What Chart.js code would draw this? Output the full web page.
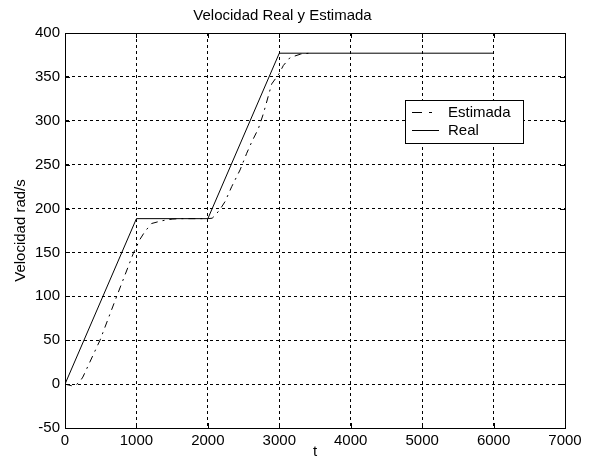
<!DOCTYPE html>
<html>
<head>
<meta charset="utf-8">
<script src="https://cdn.jsdelivr.net/npm/chart.js@4"></script>
<style>
  html, body { margin: 0; padding: 0; background: #fff; }
  #wrap { width: 592px; height: 467px; }
</style>
</head>
<body>
<div id="wrap"><canvas id="chart" width="592" height="467"></canvas></div>
<script>
// values
const realT = [0, 1000, 2000, 3000, 6000];
const realV = [0, 188.5, 188.5, 377, 377];

const estT = [0, 50, 100, 150, 200, 250, 490, 724, 957, 1050, 1120, 1214, 1350, 1500, 1600,
              2000, 2060, 2100, 2170, 2241, 2334, 2451, 2544, 2615, 2707, 2777, 2894, 3000,
              3057, 3151, 3300, 3430];
const estV = [0, -1, -2, -1, 2, 8, 50, 100, 149, 165, 174, 183, 186, 188, 188.5,
              188.5, 189, 192, 199, 208, 225, 244, 263, 276, 291, 308, 342, 354,
              363, 372, 376, 377];

const xTicks = [0, 1000, 2000, 3000, 4000, 5000, 6000, 7000];
const yTicks = [-50, 0, 50, 100, 150, 200, 250, 300, 350, 400];

const font = "'Liberation Sans', Arial, sans-serif";

const toPoints = (ts, vs) => ts.map((t, i) => ({ x: t, y: vs[i] }));

// frame + inward ticks like the original plot
const framePlugin = {
    id: 'frame',
    afterDatasetsDraw(chart) {
        const { ctx, chartArea: a, scales } = chart;
        ctx.save();
        ctx.strokeStyle = '#000';
        ctx.lineWidth = 1;
        ctx.setLineDash([]);
        ctx.strokeRect(a.left + 0.5, a.top + 0.5, a.right - a.left, a.bottom - a.top);
        ctx.beginPath();
        xTicks.forEach(v => {
            const x = Math.round(scales.x.getPixelForValue(v)) + 0.5;
            ctx.moveTo(x, a.bottom); ctx.lineTo(x, a.bottom - 5);
            ctx.moveTo(x, a.top); ctx.lineTo(x, a.top + 5);
        });
        yTicks.forEach(v => {
            const y = Math.round(scales.y.getPixelForValue(v)) + 0.5;
            ctx.moveTo(a.left, y); ctx.lineTo(a.left + 5, y);
            ctx.moveTo(a.right, y); ctx.lineTo(a.right - 5, y);
        });
        ctx.stroke();
        ctx.restore();
    }
};

// boxed legend inside the plot area
const boxLegend = {
    id: 'boxLegend',
    afterDraw(chart) {
        const { ctx, chartArea: a } = chart;
        const bx = a.right - 160, by = a.top + 67, bw = 118, bh = 43;
        ctx.save();
        ctx.fillStyle = '#fff';
        ctx.fillRect(bx, by, bw, bh);
        ctx.strokeStyle = '#000';
        ctx.lineWidth = 1;
        ctx.strokeRect(bx + 0.5, by + 0.5, bw, bh);
        ctx.font = '15px ' + font;
        ctx.textBaseline = 'middle';
        ctx.fillStyle = '#000';
        chart.data.datasets.forEach((ds, i) => {
            const y = by + 12.5 + i * 18;
            ctx.beginPath();
            ctx.setLineDash(ds.legendDash || []);
            ctx.strokeStyle = ds.borderColor;
            ctx.lineWidth = ds.borderWidth;
            ctx.moveTo(bx + 7, y); ctx.lineTo(bx + 34, y);
            ctx.stroke();
            ctx.setLineDash([]);
            ctx.fillText(ds.label, bx + 43, y);
        });
        ctx.restore();
    }
};

new Chart(document.getElementById('chart'), {
    type: 'line',
    data: {
        datasets: [
            {
                label: 'Estimada',
                data: toPoints(estT, estV),
                borderColor: '#000',
                borderWidth: 1,
                borderDash: [7, 5, 2, 5],
                legendDash: [10, 7, 3, 20],
                pointRadius: 0,
                tension: 0,
                fill: false
            },
            {
                label: 'Real',
                data: toPoints(realT, realV),
                borderColor: '#000',
                borderWidth: 1,
                pointRadius: 0,
                tension: 0,
                fill: false
            }
        ]
    },
    options: {
        responsive: false,
        animation: false,
        devicePixelRatio: 1,
        layout: { padding: { left: 0, right: 27, top: 0, bottom: 0 } },
        plugins: {
            legend: { display: false },
            tooltip: { enabled: false },
            title: {
                display: true,
                text: 'Velocidad Real y Estimada',
                color: '#000',
                font: { family: font, size: 15, weight: 'normal' },
                padding: { top: 7, bottom: 8 }
            }
        },
        scales: {
            x: {
                type: 'linear',
                min: 0,
                max: 7000,
                afterBuildTicks(scale) { scale.ticks = xTicks.map(v => ({ value: v })); },
                afterFit(scale) { scale.height = 39; },
                ticks: {
                    color: '#000',
                    font: { family: font, size: 15 },
                    padding: 4,
                    maxRotation: 0,
                    callback: v => String(v)
                },
                grid: { color: '#000', lineWidth: 1, drawTicks: false },
                border: { display: true, color: '#000', dash: [3, 3] },
                title: {
                    display: true,
                    text: 't',
                    color: '#000',
                    font: { family: font, size: 15 },
                    padding: { top: 0, bottom: 6 }
                }
            },
            y: {
                type: 'linear',
                min: -50,
                max: 400,
                afterBuildTicks(scale) { scale.ticks = yTicks.map(v => ({ value: v })); },
                afterFit(scale) { scale.width = 65; },
                ticks: {
                    color: '#000',
                    font: { family: font, size: 15 },
                    padding: 5,
                    callback: v => String(v)
                },
                grid: { color: '#000', lineWidth: 1, drawTicks: false },
                border: { display: true, color: '#000', dash: [3, 3] },
                title: {
                    display: true,
                    text: 'Velocidad rad/s',
                    color: '#000',
                    font: { family: font, size: 15 },
                    padding: { top: 12, bottom: 0 }
                }
            }
        }
    },
    plugins: [framePlugin, boxLegend]
});
</script>
</body>
</html>
